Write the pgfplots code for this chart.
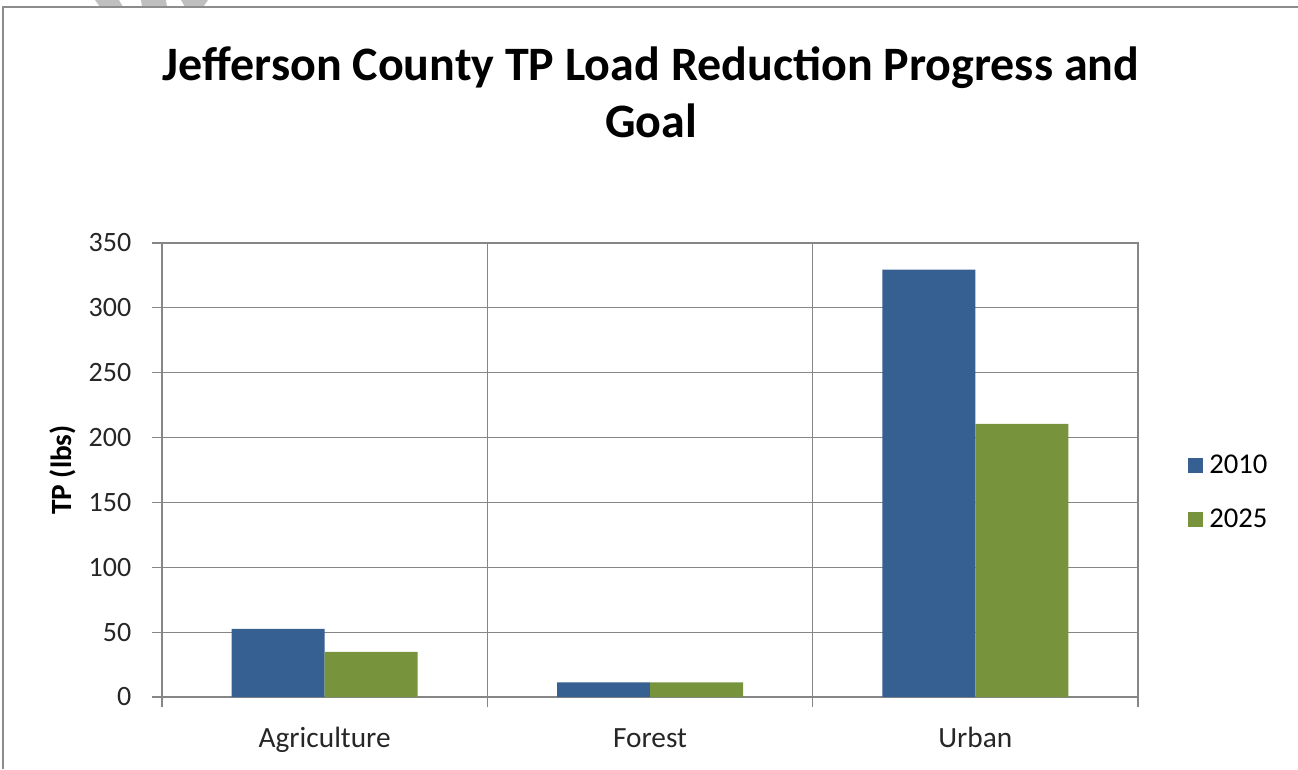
\documentclass[border=0pt]{standalone}
\usepackage{fontspec}
\setmainfont{Carlito}
\usepackage{pgfplots}
\pgfplotsset{compat=1.18}
\definecolor{blueS}{RGB}{55,96,146}
\definecolor{greenS}{RGB}{119,147,60}
\definecolor{gridc}{RGB}{134,134,134}
\definecolor{framec}{RGB}{140,140,140}
\begin{document}
\begin{tikzpicture}[x=0.75pt,y=0.75pt]
\path[use as bounding box] (0,0) rectangle (1298,769);
% decorative shapes at top
\fill[gray!50] (95,769) -- (100,762) -- (123,762) -- (119,769) -- cycle;
\fill[gray!50] (141,769) -- (142,762) -- (167,762) -- (166,769) -- cycle;
\fill[gray!50] (181,769) -- (185,762) -- (203,762) -- (208,769) -- cycle;
% frame
\draw[framec, line width=1.5pt] (3,0) -- (3,762) -- (1298,762);
\node[font=\fontsize{36}{43}\selectfont\bfseries, align=center] at (651,677) {Jefferson County TP Load Reduction Progress and\\Goal};
\begin{axis}[
  at={(121.5pt,54pt)}, anchor=south west,
  scale only axis, width=732pt, height=340.5pt,
  ybar=0pt, bar width=69.75pt,
  xmin=-0.5, xmax=2.5, ymin=0, ymax=350,
  ytick={0,50,...,350},
  xtick={-0.5,0.5,1.5,2.5}, xticklabels={},
  extra x ticks={0,1,2},
  extra x tick labels={Agriculture,Forest,Urban},
  extra x tick style={grid=none, major tick length=0pt, tick label style={yshift=-27.5pt, text height=1.5ex, text depth=0.25ex, font=\fontsize{22}{26}\selectfont}},
  xmajorgrids, ymajorgrids,
  grid style={gridc, line width=0.9pt},
  axis line style={gridc, line width=0.9pt},
  tick style={gridc, line width=0.9pt},
  major tick length=7.5pt, tick align=outside,
  xtick pos=bottom, ytick pos=left,
  ticklabel style={font=\fontsize{21}{25}\selectfont, text=black!85},
  yticklabel style={xshift=-12pt},
  /pgf/number format/assume math mode=true,
  ylabel={\textbf{TP (lbs)}},
  ylabel style={font=\fontsize{22}{26}\selectfont, at={(rel axis cs:0,0.5)}, anchor=center, yshift=74.25pt},
  legend style={at={(1.051,0.451)}, anchor=west, draw=none, fill=none,
    font=\fontsize{21.5}{25}\selectfont, row sep=21pt, inner sep=0pt,
    /tikz/every odd column/.append style={column sep=3pt}},
  legend cell align=left,
  legend image code/.code={\path[#1, draw=none] (0pt,-5.5pt) rectangle (11pt,5.5pt);},
]
\addplot[fill=blueS, draw=none] coordinates {(0,52.6) (1,11.3) (2,329.5)};
\addplot[fill=greenS, draw=none] coordinates {(0,34.8) (1,11.3) (2,210.5)};
\legend{2010,2025}
\end{axis}
\end{tikzpicture}
\end{document}
